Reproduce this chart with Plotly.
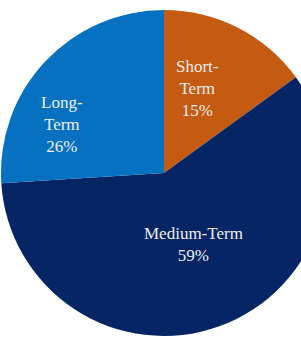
import plotly.graph_objects as go

categories = ["Short-Term", "Medium-Term", "Long-Term"]
display_text = ["Short-<br>Term", "Medium-Term", "Long-<br>Term"]
shares = [15, 59, 26]
colors = ["#C55A11", "#052565", "#0671C0"]

# label block centres in pixels (style, not data)
label_px = [(197, 89), (193, 245), (62, 124)]

W, H = 330, 341
L, R, T, B = 1, 3, 10, 5
pw, ph = W - L - R, H - T - B

fig = go.Figure(go.Pie(
    labels=categories,
    values=shares,
    textinfo="none",
    sort=False,
    direction="clockwise",
    rotation=0,
    marker=dict(colors=colors, line=dict(width=0)),
    showlegend=False,
    hoverinfo="label+percent",
))

total = sum(shares)
for txt, v, (px, py) in zip(display_text, shares, label_px):
    fig.add_annotation(
        x=(px - L) / pw, y=1 - (py - T) / ph,
        xref="paper", yref="paper",
        text=f"{txt}<br>{round(100 * v / total)}%",
        showarrow=False, xanchor="center", yanchor="middle",
        font=dict(family="'Times New Roman', 'Liberation Serif', serif", size=17, color="#EEEEEE"),
    )

fig.update_layout(
    width=W,
    height=H,
    margin=dict(l=L, r=R, t=T, b=B),
    paper_bgcolor="white",
    plot_bgcolor="white",
)

fig.write_html(
    "out.html",
    config={"displayModeBar": False},
    post_script="document.body.style.margin='0';document.body.style.overflow='hidden';",
)
